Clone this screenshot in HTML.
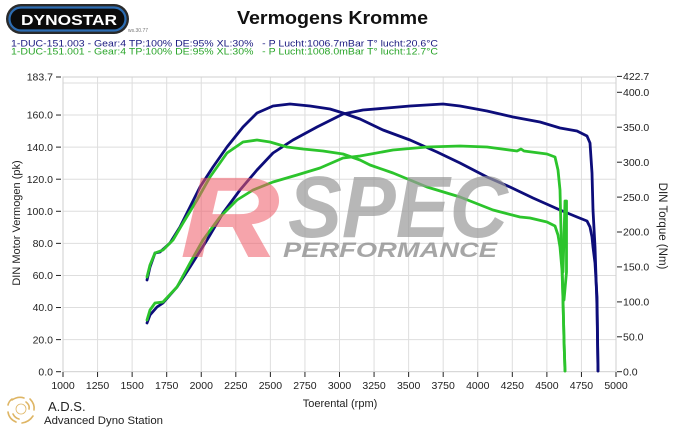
<!DOCTYPE html>
<html><head><meta charset="utf-8"><style>
html,body{margin:0;padding:0;background:#fff;}
svg{display:block;}
text{font-family:"Liberation Sans",Arial,sans-serif;}
</style></head><body>
<svg width="685" height="428" viewBox="0 0 685 428" xmlns="http://www.w3.org/2000/svg">
<rect x="0" y="0" width="685" height="428" fill="#fff"/>
<!-- Dynostar logo -->
<rect x="6" y="4" width="123" height="30" rx="15" fill="#2a2a2a"/>
<rect x="9.5" y="7.5" width="116" height="23" rx="11.5" fill="#0b0b0b" stroke="#2c6cb2" stroke-width="2.2"/>
<text x="21" y="25" font-size="14.5" font-weight="bold" fill="#fff" textLength="96" lengthAdjust="spacingAndGlyphs">DYNOSTAR</text>
<text x="128" y="32" font-size="5" fill="#777">ws.30.77</text>
<!-- Title -->
<text x="237" y="24" font-size="18" font-weight="bold" fill="#111" textLength="191" lengthAdjust="spacingAndGlyphs">Vermogens Kromme</text>
<!-- Legend -->
<text x="11" y="46.7" font-size="9" fill="#1a1a80" textLength="427" lengthAdjust="spacingAndGlyphs" xml:space="preserve">1-DUC-151.003 - Gear:4 TP:100% DE:95% XL:30%   - P Lucht:1006.7mBar T° lucht:20.6°C</text>
<text x="11" y="54.5" font-size="9" fill="#2aa52a" textLength="427" lengthAdjust="spacingAndGlyphs" xml:space="preserve">1-DUC-151.001 - Gear:4 TP:100% DE:95% XL:30%   - P Lucht:1008.0mBar T° lucht:12.7°C</text>

<!-- Grid -->
<g stroke="#dedede" stroke-width="1">
<line x1="97.56" y1="77" x2="97.56" y2="371.7"/>
<line x1="132.13" y1="77" x2="132.13" y2="371.7"/>
<line x1="166.69" y1="77" x2="166.69" y2="371.7"/>
<line x1="201.25" y1="77" x2="201.25" y2="371.7"/>
<line x1="235.81" y1="77" x2="235.81" y2="371.7"/>
<line x1="270.38" y1="77" x2="270.38" y2="371.7"/>
<line x1="304.94" y1="77" x2="304.94" y2="371.7"/>
<line x1="339.5" y1="77" x2="339.5" y2="371.7"/>
<line x1="374.06" y1="77" x2="374.06" y2="371.7"/>
<line x1="408.63" y1="77" x2="408.63" y2="371.7"/>
<line x1="443.19" y1="77" x2="443.19" y2="371.7"/>
<line x1="477.75" y1="77" x2="477.75" y2="371.7"/>
<line x1="512.31" y1="77" x2="512.31" y2="371.7"/>
<line x1="546.88" y1="77" x2="546.88" y2="371.7"/>
<line x1="581.44" y1="77" x2="581.44" y2="371.7"/>
<line x1="63" y1="339.62" x2="616" y2="339.62"/>
<line x1="63" y1="307.53" x2="616" y2="307.53"/>
<line x1="63" y1="275.45" x2="616" y2="275.45"/>
<line x1="63" y1="243.36" x2="616" y2="243.36"/>
<line x1="63" y1="211.28" x2="616" y2="211.28"/>
<line x1="63" y1="179.2" x2="616" y2="179.2"/>
<line x1="63" y1="147.11" x2="616" y2="147.11"/>
<line x1="63" y1="115.03" x2="616" y2="115.03"/>
<line x1="63" y1="82.94" x2="616" y2="82.94"/>
</g>
<rect x="63" y="77" width="553" height="294.7" fill="none" stroke="#cfcfcf" stroke-width="1"/>

<!-- Left axis -->
<g stroke="#222" stroke-width="1">
<line x1="56" y1="77" x2="61" y2="77"/>
<line x1="56" y1="115.03" x2="61" y2="115.03"/>
<line x1="56" y1="147.11" x2="61" y2="147.11"/>
<line x1="56" y1="179.2" x2="61" y2="179.2"/>
<line x1="56" y1="211.28" x2="61" y2="211.28"/>
<line x1="56" y1="243.36" x2="61" y2="243.36"/>
<line x1="56" y1="275.45" x2="61" y2="275.45"/>
<line x1="56" y1="307.53" x2="61" y2="307.53"/>
<line x1="56" y1="339.62" x2="61" y2="339.62"/>
<line x1="56" y1="371.7" x2="61" y2="371.7"/>
</g>
<g font-size="10.5" fill="#222" text-anchor="end">
<text x="53" y="80.7">183.7</text>
<text x="53" y="118.7">160.0</text>
<text x="53" y="150.8">140.0</text>
<text x="53" y="182.9">120.0</text>
<text x="53" y="215">100.0</text>
<text x="53" y="247">80.0</text>
<text x="53" y="279.1">60.0</text>
<text x="53" y="311.2">40.0</text>
<text x="53" y="343.3">20.0</text>
<text x="53" y="375.4">0.0</text>
</g>
<!-- Right axis -->
<g stroke="#222" stroke-width="1">
<line x1="617" y1="76.4" x2="622" y2="76.4"/>
<line x1="617" y1="92.3" x2="622" y2="92.3"/>
<line x1="617" y1="127.2" x2="622" y2="127.2"/>
<line x1="617" y1="162.2" x2="622" y2="162.2"/>
<line x1="617" y1="197.1" x2="622" y2="197.1"/>
<line x1="617" y1="232" x2="622" y2="232"/>
<line x1="617" y1="266.9" x2="622" y2="266.9"/>
<line x1="617" y1="301.9" x2="622" y2="301.9"/>
<line x1="617" y1="336.8" x2="622" y2="336.8"/>
<line x1="617" y1="371.7" x2="622" y2="371.7"/>
</g>
<g font-size="10.5" fill="#222">
<text x="623" y="80.1">422.7</text>
<text x="623" y="96">400.0</text>
<text x="623" y="130.9">350.0</text>
<text x="623" y="165.9">300.0</text>
<text x="623" y="200.8">250.0</text>
<text x="623" y="235.7">200.0</text>
<text x="623" y="270.6">150.0</text>
<text x="623" y="305.6">100.0</text>
<text x="623" y="340.5">50.0</text>
<text x="623" y="375.4">0.0</text>
</g>
<!-- Bottom axis -->
<g stroke="#222" stroke-width="1">
<line x1="63" y1="372" x2="63" y2="377"/>
<line x1="97.56" y1="372" x2="97.56" y2="377"/>
<line x1="132.13" y1="372" x2="132.13" y2="377"/>
<line x1="166.69" y1="372" x2="166.69" y2="377"/>
<line x1="201.25" y1="372" x2="201.25" y2="377"/>
<line x1="235.81" y1="372" x2="235.81" y2="377"/>
<line x1="270.38" y1="372" x2="270.38" y2="377"/>
<line x1="304.94" y1="372" x2="304.94" y2="377"/>
<line x1="339.5" y1="372" x2="339.5" y2="377"/>
<line x1="374.06" y1="372" x2="374.06" y2="377"/>
<line x1="408.63" y1="372" x2="408.63" y2="377"/>
<line x1="443.19" y1="372" x2="443.19" y2="377"/>
<line x1="477.75" y1="372" x2="477.75" y2="377"/>
<line x1="512.31" y1="372" x2="512.31" y2="377"/>
<line x1="546.88" y1="372" x2="546.88" y2="377"/>
<line x1="581.44" y1="372" x2="581.44" y2="377"/>
<line x1="616" y1="372" x2="616" y2="377"/>
</g>
<g font-size="10.5" fill="#222" text-anchor="middle">
<text x="63" y="389">1000</text>
<text x="97.56" y="389">1250</text>
<text x="132.13" y="389">1500</text>
<text x="166.69" y="389">1750</text>
<text x="201.25" y="389">2000</text>
<text x="235.81" y="389">2250</text>
<text x="270.38" y="389">2500</text>
<text x="304.94" y="389">2750</text>
<text x="339.5" y="389">3000</text>
<text x="374.06" y="389">3250</text>
<text x="408.63" y="389">3500</text>
<text x="443.19" y="389">3750</text>
<text x="477.75" y="389">4000</text>
<text x="512.31" y="389">4250</text>
<text x="546.88" y="389">4500</text>
<text x="581.44" y="389">4750</text>
<text x="616" y="389">5000</text>
</g>
<text x="340" y="407" font-size="11" fill="#222" text-anchor="middle">Toerental (rpm)</text>
<text transform="translate(20,223) rotate(-90)" font-size="11" fill="#222" text-anchor="middle">DIN Motor Vermogen (pk)</text>
<text transform="translate(659,226) rotate(90)" font-size="11.5" fill="#222" text-anchor="middle">DIN Torque (Nm)</text>

<!-- Curves -->
<g fill="none" stroke-width="2.8" stroke-linejoin="round" stroke-linecap="round">
<polyline stroke="#0d0d7a" points="147,280 150,267 155,253 160,252 170,243 180,227 190,207 200,187 213,167 227,147 243,127 257,113 273,106 290,104 310,106 330,109 343,113 360,119 383,130 410,140 437,152 460,163 487,177 510,187 533,198 560,210 577,217 587,221 590,227 592,237 593,247 595,263 597,297 598,371"/>
<polyline stroke="#0d0d7a" points="147,323 150,315 157,307 163,303 177,287 190,267 207,240 223,213 240,190 257,170 273,153 293,140 317,127 343,114 363,110 387,108 410,106 443,104 460,106 487,111 513,117 540,122 560,128 577,131 587,136 590,143 592,173 593,210 595,247 597,307 598,371"/>
<polyline stroke="#2cc42c" points="147,277 150,265 155,253 163,250 173,240 183,223 197,200 210,177 227,153 243,142 257,140 270,142 287,147 303,149 323,151 343,154 360,160 370,165 393,173 427,187 460,197 493,210 520,217 530,218 547,222 555,226 558,235 560,247 562,270 563,300 564,340 565,371"/>
<polyline stroke="#2cc42c" points="147,320 150,310 155,303 163,302 177,287 190,263 203,240 220,217 237,200 253,190 273,182 297,175 320,168 343,158 360,156 393,150 427,147 460,146 487,147 517,151 521,149 524,151 547,154 555,157 558,170 560,190 561,230 562,260 563,300 564,340 565,371"/>
<polyline stroke="#2cc42c" points="563,272 565,201 566.5,201 566.5,272 564,300"/>
</g>

<!-- Watermark -->
<text x="180" y="257" font-size="115" font-weight="bold" font-style="italic" fill="#ee5a66" fill-opacity="0.55" textLength="100" lengthAdjust="spacingAndGlyphs">R</text>
<text x="288" y="237" font-size="87" font-weight="bold" font-style="italic" fill="#999" fill-opacity="0.7" textLength="220" lengthAdjust="spacingAndGlyphs">SPEC</text>
<text x="283" y="257" font-size="21" font-weight="bold" font-style="italic" fill="#888" fill-opacity="0.75" textLength="214" lengthAdjust="spacingAndGlyphs">PERFORMANCE</text>

<!-- ADS logo -->
<g fill="none" stroke="#d9a94a" stroke-width="1.6" stroke-linecap="round" opacity="0.85">
<circle cx="21" cy="409" r="5" stroke-width="0.8"/>
<path d="M12,400 q6,-4 12,-2"/>
<path d="M30,399 q5,5 4,11"/>
<path d="M33,416 q-4,6 -11,7"/>
<path d="M16,422 q-7,-3 -8,-10"/>
<path d="M8,405 q1,-4 4,-6"/>
<path d="M26,402 q4,3 3,7"/>
<path d="M13,414 q2,4 6,5"/>
</g>
<text x="48" y="411" font-size="13" fill="#222">A.D.S.</text>
<text x="44" y="424" font-size="11" fill="#222" textLength="119" lengthAdjust="spacingAndGlyphs">Advanced Dyno Station</text>
</svg>
</body></html>
